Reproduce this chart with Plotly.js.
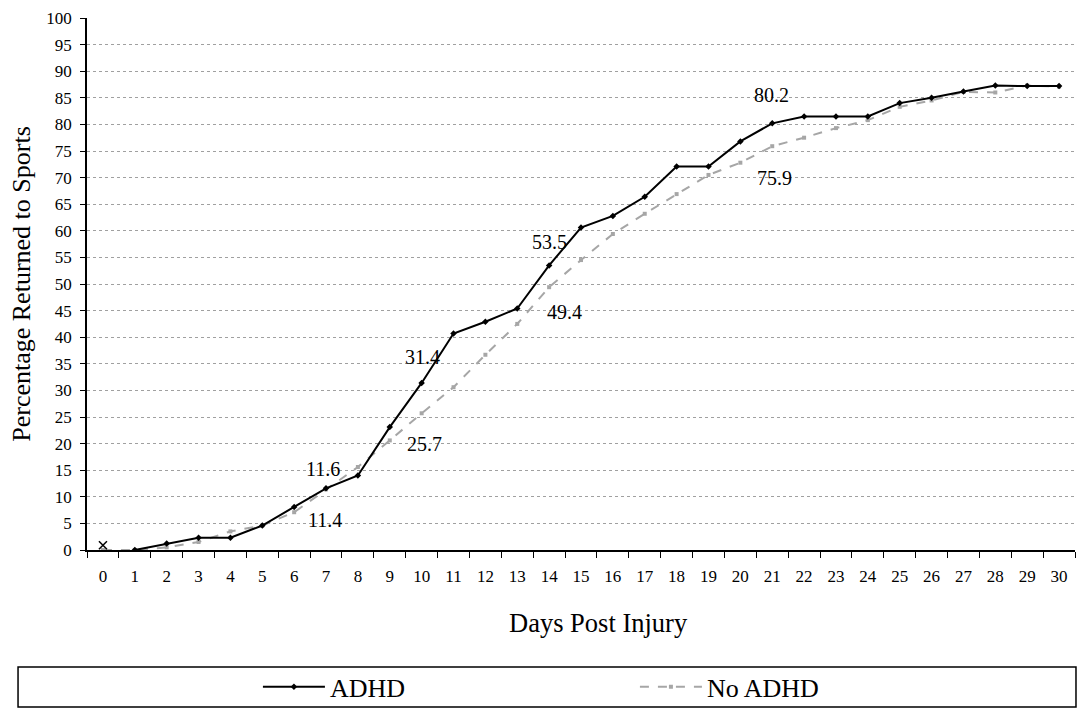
<!DOCTYPE html>
<html>
<head>
<meta charset="utf-8">
<script src="https://cdn.plot.ly/plotly-3.0.1.min.js"></script>
<style>body{margin:0;background:#fff}#myGraph{width:1084px;height:714px}</style>
</head>
<body>
<div id="myGraph"></div>
<script>
let days = ['0','1','2','3','4','5','6','7','8','9','10','11','12','13','14','15',
    '16','17','18','19','20','21','22','23','24','25','26','27','28','29','30'];

let adhdDays = days.slice(1);
let adhd = [0, 1.2, 2.3, 2.3, 4.6, 8.1, 11.6, 14.0, 23.1, 31.4, 40.7, 42.9, 45.4, 53.5,
    60.6, 62.8, 66.4, 72.1, 72.1, 76.8, 80.2, 81.5, 81.5, 81.5, 84.0, 85.0, 86.2, 87.3, 87.2, 87.2];

let noAdhd = [0, 0, 0.5, 1.5, 3.5, 4.6, 7.1, 11.4, 15.6, 20.6, 25.7, 30.6, 36.7, 42.5, 49.4,
    54.5, 59.4, 63.2, 66.9, 70.5, 72.8, 75.9, 77.5, 79.3, 80.8, 83.3, 84.5, 86.1, 86.0, 87.3, 87.1];

// the lone x mark at day 0
let startDay = ['0'];
let startVal = [0.9];

// labelled points: [series, day index]
let labelled = [
    ['adhd', 7], ['no', 7], ['adhd', 10], ['no', 10],
    ['adhd', 14], ['no', 14], ['adhd', 21], ['no', 21]
];
let labelShift = {
    adhd: {7: [-3, 19], 10: [1, 26], 14: [0, 23], 21: [-1, 28]},
    no: {7: [-1, -31], 10: [3, -31], 14: [15, -25], 21: [2, -32]}
};

let serif = "'Liberation Serif'";

let trace1 = {
    type: 'scatter',
    mode: 'lines+markers',
    name: 'ADHD',
    x: adhdDays,
    y: adhd,
    line: {color: '#000000', width: 2},
    marker: {symbol: 'diamond', size: 5, color: '#000000'}
};

let trace2 = {
    type: 'scatter',
    mode: 'lines+markers',
    name: 'No ADHD',
    x: days,
    y: noAdhd,
    line: {color: '#a6a6a6', width: 2, dash: 'dash'},
    marker: {symbol: 'square', size: 4, color: '#a6a6a6'}
};

let trace3 = {
    type: 'scatter',
    mode: 'markers',
    x: startDay,
    y: startVal,
    showlegend: false,
    marker: {symbol: 'x-thin', size: 8, line: {color: '#000000', width: 1.5}}
};

let annotations = labelled.map(function (p) {
    let vals = p[0] === 'adhd' ? noAdhd.map((v, i) => i === 0 ? null : adhd[i - 1]) : noAdhd;
    let v = vals[p[1]];
    let s = labelShift[p[0]][p[1]];
    return {
        x: days[p[1]], y: v, xref: 'x', yref: 'y',
        text: v.toFixed(1), showarrow: false,
        xshift: s[0], yshift: s[1],
        font: {family: serif, size: 20, color: '#000000'}
    };
});

annotations.push({
    x: 0.518, y: -0.137, xref: 'paper', yref: 'paper',
    text: 'Days Post Injury', showarrow: false,
    xanchor: 'center', yanchor: 'middle',
    font: {family: serif, size: 26.5, color: '#000000'}
});

let layout = {
    width: 1084,
    height: 714,
    margin: {l: 87, r: 9, t: 18, b: 164},
    paper_bgcolor: '#ffffff',
    plot_bgcolor: '#ffffff',
    font: {family: serif, color: '#000000'},
    showlegend: true,
    legend: {
        orientation: 'h',
        traceorder: 'reversed',
        xref: 'paper',
        yref: 'container',
        x: 0.173, xanchor: 'left',
        y: 0.038, yanchor: 'middle',
        font: {family: serif, size: 26, color: '#000000'},
        entrywidth: 300,
        itemwidth: 62,
        bgcolor: 'rgba(0,0,0,0)'
    },
    xaxis: {
        type: 'category',
        range: [-0.5, 30.5],
        automargin: false,
        tickson: 'boundaries',
        ticks: 'outside',
        ticklen: 6,
        tickcolor: '#000000',
        ticklabelstandoff: 10,
        showline: true,
        linecolor: '#000000',
        linewidth: 1.5,
        showgrid: false,
        zeroline: false,
        tickfont: {family: serif, size: 17, color: '#000000'}
    },
    yaxis: {
        range: [0, 100],
        dtick: 5,
        automargin: false,
        ticks: 'outside',
        ticklen: 5,
        tickcolor: '#000000',
        ticklabelstandoff: 5,
        showline: true,
        linecolor: '#000000',
        linewidth: 1.5,
        showgrid: true,
        gridcolor: '#a0a0a0',
        griddash: 'dot',
        gridwidth: 1,
        zeroline: false,
        tickfont: {family: serif, size: 17, color: '#000000'},
        title: {text: 'Percentage Returned to Sports', font: {family: serif, size: 26, color: '#000000'}, standoff: 8}
    },
    shapes: [{
        type: 'rect', xref: 'paper', yref: 'paper',
        x0: -0.0698, x1: 1.001, y0: -0.295, y1: -0.22,
        line: {color: '#000000', width: 1.5},
        fillcolor: 'rgba(0,0,0,0)'
    }],
    annotations: annotations
};

Plotly.newPlot('myGraph', [trace2, trace1, trace3], layout, {displayModeBar: false});
</script>
</body>
</html>
